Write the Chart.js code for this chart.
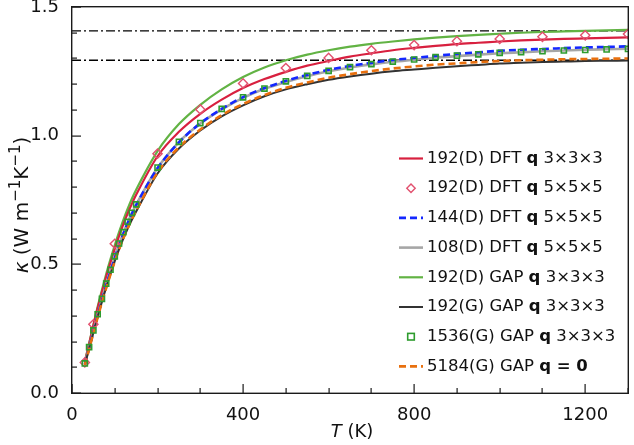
<!DOCTYPE html>
<html><head><meta charset="utf-8">
<script src="https://cdn.jsdelivr.net/npm/chart.js@4.4.1/dist/chart.umd.min.js"></script>
<style>html,body{margin:0;padding:0;background:#fff;}#wrap{width:634px;height:445px;position:relative;}
#frame{position:absolute;border:1.3px solid #1a1a1a;box-sizing:border-box;pointer-events:none;}</style>
</head><body><div id="wrap"><canvas id="c" width="634" height="445"></canvas><div id="frame"></div></div>
<script>
// Temperatures (K)
const T = [30,40,50,60,70,80,90,100,110,120,130,140,150,200,250,300,350,400,450,500,550,600,650,700,750,800,850,900,950,1000,1050,1100,1150,1200,1250,1300];
// 192(D) DFT q 3x3x3
const dft192q3 = [0.120,0.190,0.262,0.330,0.392,0.452,0.507,0.560,0.610,0.655,0.697,0.735,0.770,0.920,1.015,1.085,1.140,1.185,1.220,1.248,1.272,1.290,1.307,1.320,1.332,1.341,1.349,1.356,1.361,1.366,1.370,1.373,1.376,1.378,1.380,1.382];
// 192(D) DFT q 5x5x5 (markers)
const T5 = [30,50,100,200,300,400,500,600,700,800,900,1000,1100,1200,1300];
const dft192q5 = [0.119,0.267,0.580,0.930,1.102,1.203,1.263,1.302,1.332,1.352,1.367,1.376,1.384,1.390,1.395];
// 144(D) DFT q 5x5x5
const dft144q5 = [0.112,0.174,0.238,0.300,0.360,0.418,0.472,0.524,0.573,0.618,0.659,0.696,0.730,0.873,0.974,1.048,1.104,1.150,1.185,1.213,1.236,1.256,1.271,1.283,1.294,1.302,1.310,1.318,1.324,1.330,1.334,1.337,1.340,1.343,1.345,1.347];
// 108(D) DFT q 5x5x5
const dft108q5 = [0.114,0.177,0.241,0.304,0.364,0.422,0.476,0.528,0.577,0.621,0.662,0.698,0.731,0.874,0.975,1.047,1.102,1.147,1.182,1.209,1.231,1.250,1.265,1.277,1.287,1.295,1.303,1.309,1.315,1.320,1.324,1.328,1.331,1.334,1.336,1.338];
// 192(D) GAP q 3x3x3
const gap192D = [0.122,0.192,0.265,0.335,0.400,0.462,0.520,0.574,0.625,0.672,0.715,0.755,0.790,0.940,1.045,1.120,1.180,1.228,1.265,1.293,1.315,1.332,1.346,1.357,1.366,1.374,1.381,1.387,1.392,1.396,1.400,1.403,1.405,1.407,1.409,1.411];
// 192(G) GAP q 3x3x3
const gap192G = [0.110,0.172,0.235,0.296,0.355,0.410,0.462,0.512,0.558,0.600,0.638,0.673,0.705,0.853,0.950,1.020,1.075,1.118,1.153,1.180,1.200,1.217,1.230,1.241,1.250,1.257,1.264,1.270,1.275,1.280,1.283,1.286,1.288,1.290,1.291,1.292];
// 1536(G) GAP q 3x3x3 (markers)
const gap1536 = [0.115,0.178,0.243,0.306,0.366,0.425,0.479,0.531,0.581,0.625,0.665,0.700,0.733,0.876,0.976,1.049,1.104,1.149,1.183,1.211,1.232,1.252,1.266,1.278,1.288,1.296,1.305,1.311,1.316,1.322,1.325,1.328,1.331,1.333,1.335,1.337];
// 5184(G) GAP q = 0
const gap5184 = [0.109,0.170,0.233,0.294,0.353,0.408,0.461,0.511,0.558,0.601,0.640,0.676,0.709,0.857,0.955,1.024,1.080,1.123,1.158,1.186,1.207,1.225,1.239,1.251,1.261,1.269,1.276,1.281,1.286,1.290,1.293,1.295,1.297,1.298,1.299,1.300];
// horizontal reference levels
const refLines = [1.407, 1.293];
const xTicks = [0,400,800,1200];
const yTicks = [0.0,0.5,1.0,1.5];

const COL = {red:'#d8203f', pink:'#e2506e', blue:'#1428ff', gray:'#a6a6a6', green:'#62b344', black:'#333333', sq:'#2e9c2e', orange:'#e8700f'};
const FONT = '"DejaVu Sans", Verdana, sans-serif';
const pts = (xs, ys) => xs.map((x,i)=>({x:x, y:ys[i]}));

const lineDs = (label, ys, color, width, dash, order) => ({
  label, data: pts(T, ys), borderColor: color, borderWidth: width, borderDash: dash,
  pointRadius: 0, fill: false, cubicInterpolationMode: 'monotone', order
});

const datasets = [
  {label:'1536(G) GAP q 3×3×3', data: pts(T, gap1536), showLine:false, pointStyle:'rect', pointRadius:3.6, borderColor:COL.sq, backgroundColor:'rgba(0,0,0,0)', pointBorderWidth:1.6, order:0},
  {label:'192(D) DFT q 5×5×5', data: pts(T5, dft192q5), showLine:false, pointStyle:'rectRot', pointRadius:4.6, borderColor:COL.pink, backgroundColor:'rgba(0,0,0,0)', pointBorderWidth:1.4, order:1},
  lineDs('5184(G) GAP q = 0', gap5184, COL.orange, 2.6, [7,4], 2),
  lineDs('192(G) GAP q 3×3×3', gap192G, COL.black, 2, [], 3),
  lineDs('144(D) DFT q 5×5×5', dft144q5, COL.blue, 2.6, [7,4], 4),
  lineDs('108(D) DFT q 5×5×5', dft108q5, COL.gray, 2.6, [], 5),
  lineDs('192(D) DFT q 3×3×3', dft192q3, COL.red, 2.2, [], 6),
  lineDs('192(D) GAP q 3×3×3', gap192D, COL.green, 2.2, [], 7),
];
refLines.forEach((v,i)=>datasets.push({label:'ref'+i, data:[{x:0,y:v},{x:1300,y:v}], borderColor:'#000', borderWidth:1.3, borderDash:[9,3,2,3], pointRadius:0, fill:false, order:8+i}));

const legendItems = [
  {type:'line', color:COL.red, dash:[], w:2.2, parts:[['192(D) DFT ',0],['q',1],[' 3×3×3',0]]},
  {type:'diamond', color:COL.pink, parts:[['192(D) DFT ',0],['q',1],[' 5×5×5',0]]},
  {type:'line', color:COL.blue, dash:[7,4], w:2.6, parts:[['144(D) DFT ',0],['q',1],[' 5×5×5',0]]},
  {type:'line', color:COL.gray, dash:[], w:2.6, parts:[['108(D) DFT ',0],['q',1],[' 5×5×5',0]]},
  {type:'line', color:COL.green, dash:[], w:2.2, parts:[['192(D) GAP ',0],['q',1],[' 3×3×3',0]]},
  {type:'line', color:COL.black, dash:[], w:2, parts:[['192(G) GAP ',0],['q',1],[' 3×3×3',0]]},
  {type:'square', color:COL.sq, parts:[['1536(G) GAP ',0],['q',1],[' 3×3×3',0]]},
  {type:'line', color:COL.orange, dash:[7,4], w:2.6, parts:[['5184(G) GAP ',0],['q = 0',1]]},
];

function fontFor(style, size){
  if (style === 1) return 'bold ' + size + 'px ' + FONT;
  if (style === 2) return 'italic ' + size + 'px ' + FONT;
  return size + 'px ' + FONT;
}
function drawParts(ctx, parts, size, left, cx, y, center){
  let total = 0;
  parts.forEach(p => { ctx.font = fontFor(p[1], p[2] || size); total += ctx.measureText(p[0]).width; });
  let x = center ? cx - total/2 : left;
  ctx.textAlign = 'left';
  parts.forEach(p => { ctx.font = fontFor(p[1], p[2] || size); ctx.fillText(p[0], x, y - (p[3] || 0)); x += ctx.measureText(p[0]).width; });
}

const deco = {
  id:'deco',
  afterDraw(chart){
    const ctx = chart.ctx, a = chart.chartArea, xs = chart.scales.x, ys = chart.scales.y;
    const L = a.left, R = a.right, Tp = a.top, B = a.bottom;
    // frame overlay position
    const f = document.getElementById('frame');
    f.style.left = (L - 0.7) + 'px'; f.style.top = (Tp - 0.7) + 'px';
    f.style.width = (R - L + 1.4) + 'px'; f.style.height = (B - Tp + 1.4) + 'px';
    ctx.save();
    ctx.setLineDash([]);
    ctx.fillStyle = '#1a1a1a';
    ctx.fillRect(L - 1, Tp - 1, R - L + 2, 1.4);
    ctx.fillRect(L - 1, B - 0.4, R - L + 2, 1.4);
    ctx.fillRect(L - 1, Tp - 1, 1.4, B - Tp + 2);
    ctx.fillRect(R - 0.4, Tp - 1, 1.4, B - Tp + 2);
    for (let v = 0; v <= 1300; v += 100) {
      const px = Math.round(xs.getPixelForValue(v));
      const len = (v % 400 === 0) ? 9 : 5;
      ctx.fillRect(px - 0.5, B - len, 1.2, len);
    }
    for (let k = 0; k <= 15; k++) {
      const py = Math.round(ys.getPixelForValue(k / 10));
      const len = (k % 5 === 0) ? 9 : 5;
      ctx.fillRect(L, py - 0.5, len, 1.2);
    }
    ctx.fillStyle = '#111'; ctx.textBaseline = 'middle';
    drawParts(ctx, [['T',2],[' (K)',0]], 18, null, (L + R)/2 + 2, 432, true);
    ctx.save();
    ctx.translate(23, 205);
    ctx.rotate(-Math.PI/2);
    drawParts(ctx, [['κ',2],[' (W m',0],['−1',0,15,7],['K',0],['−1',0,15,7],[')',0]], 20, null, 0, 0, true);
    ctx.restore();
    const x0 = 399, x1 = 423, tx = 427;
    legendItems.forEach((it, i) => {
      const y = 158.5 + i * 29.7;
      ctx.save();
      ctx.strokeStyle = it.color;
      if (it.type === 'line') {
        ctx.lineWidth = it.w; ctx.setLineDash(it.dash);
        ctx.beginPath(); ctx.moveTo(x0, y); ctx.lineTo(x1, y); ctx.stroke();
      } else if (it.type === 'diamond') {
        ctx.lineWidth = 1.4; const r = 4.2, cx = (x0+x1)/2;
        ctx.beginPath(); ctx.moveTo(cx, y-r); ctx.lineTo(cx+r, y); ctx.lineTo(cx, y+r); ctx.lineTo(cx-r, y); ctx.closePath(); ctx.stroke();
      } else {
        ctx.lineWidth = 1.6; const r = 3.3, cx = (x0+x1)/2;
        ctx.strokeRect(cx-r, y-r, 2*r, 2*r);
      }
      ctx.restore();
      ctx.fillStyle = '#111'; ctx.textBaseline = 'middle';
      drawParts(ctx, it.parts, 16.5, tx, 0, y, false);
    });
    ctx.restore();
  }
};

new Chart(document.getElementById('c'), {
  type:'line',
  data:{datasets},
  options:{
    responsive:false, animation:false, devicePixelRatio:1,
    layout:{padding:{top:7, right:1, left:0, bottom:0}},
    plugins:{legend:{display:false}, tooltip:{enabled:false}},
    scales:{
      x:{type:'linear', min:0, max:1300,
         grid:{display:false}, border:{display:false},
         afterBuildTicks: s => { s.ticks = xTicks.map(v=>({value:v})); },
         afterFit: s => { s.height = 52; s.paddingLeft = 0; s.paddingRight = 0; },
         ticks:{color:'#111', font:{family:FONT, size:18}, padding:4, maxRotation:0, callback: v => String(v)}},
      y:{type:'linear', min:0, max:1.5,
         grid:{display:false}, border:{display:false},
         afterBuildTicks: s => { s.ticks = yTicks.map(v=>({value:v})); },
         afterFit: s => { s.width = 72; s.paddingTop = 0; s.paddingBottom = 0; },
         ticks:{color:'#111', font:{family:FONT, size:18}, padding:5, callback: v => v.toFixed(1)}}
    }
  },
  plugins:[deco]
});
</script></body></html>
